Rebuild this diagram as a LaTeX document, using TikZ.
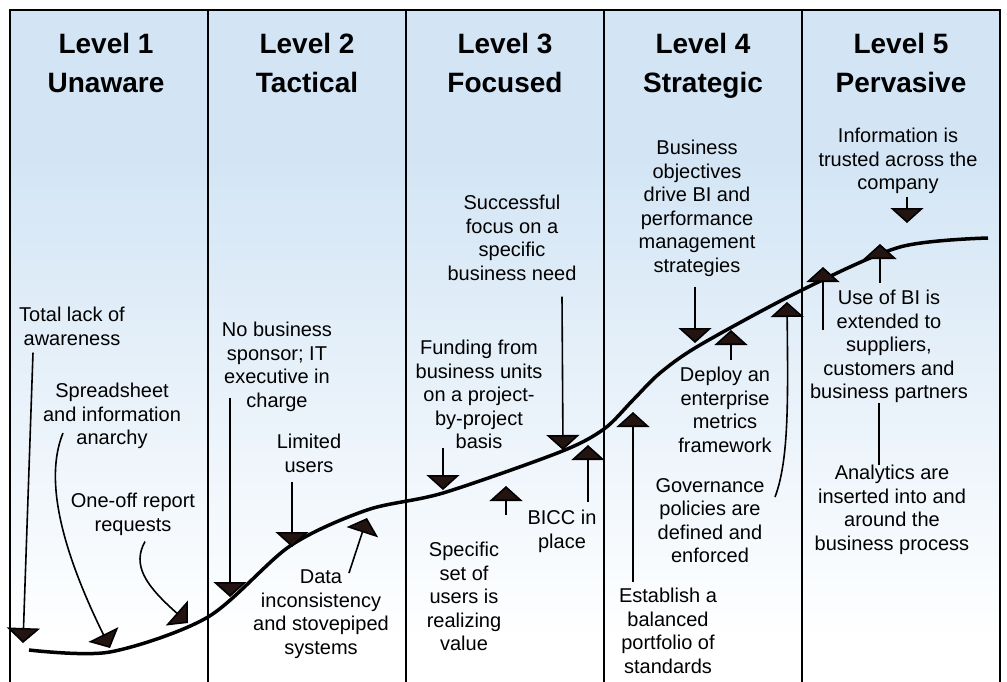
\documentclass[tikz,border=0pt]{standalone}
\usepackage{fontspec}
\setmainfont{Liberation Sans}
\usetikzlibrary{arrows.meta}
\definecolor{bandblue}{RGB}{211,229,245}
\definecolor{tipbrown}{RGB}{35,20,18}

\begin{document}
\begin{tikzpicture}[x=1pt,y=-1pt,
	level/.style={font=\fontsize{28}{39}\selectfont\bfseries,align=center,anchor=north,inner sep=0pt},
	note/.style={font=\fontsize{20}{23.5}\selectfont,align=center,anchor=north,inner sep=0pt},
	pointer/.style={line width=1.6pt,-{Triangle[width=33pt,length=15pt,fill=tipbrown]}},
	trend/.style={line width=3.5pt},
	frame/.style={line width=2pt}]

		\useasboundingbox (0,0) rectangle (1007,682);

		\fill[bandblue] (10,10) rectangle (1000,160);
		\shade[top color=bandblue,bottom color=white] (10,160) rectangle (1000,640);

		\draw[frame] (10,682) -- (10,10) -- (1000,10) -- (1000,682);
		\draw[frame] (208,10) -- (208,682);
		\draw[frame] (406,10) -- (406,682);
		\draw[frame] (604,10) -- (604,682);
		\draw[frame] (802,10) -- (802,682);

		\node[level] (lvl1) at (106,33) {Level 1\\Unaware};
		\node[level] (lvl2) at (307,33) {Level 2\\Tactical};
		\node[level] (lvl3) at (505,33) {Level 3\\Focused};
		\node[level] (lvl4) at (703,33) {Level 4\\Strategic};
		\node[level] (lvl5) at (901,33) {Level 5\\Pervasive};

		\draw[trend] plot[smooth] coordinates {(29,650) (110,652) (208,617) (290,546)
			(367,510) (443,493) (560,452) (604,429) (633,400) (660,373) (700,345)
			(800,291) (900,247) (988,238)};

		\node[note] (lack) at (72,307) {Total lack of\\awareness};
		\node[note] (sheet) at (112,383) {Spreadsheet\\and information\\anarchy};
		\node[note] (oneoff) at (133,493) {One-off report\\requests};
		\node[note] (sponsor) at (277,322) {No business\\sponsor; IT\\executive in\\charge};
		\node[note] (limited) at (309,434) {Limited\\users};
		\node[note] (incons) at (321,570) {Data\\inconsistency\\and stovepiped\\systems};
		\node[note] (success) at (512,195) {Successful\\focus on a\\specific\\business need};
		\node[note] (funding) at (479,340) {Funding from\\business units\\on a project-\\by-project\\basis};
		\node[note] (specific) at (464,542) {Specific\\set of\\users is\\realizing\\value};
		\node[note] (bicc) at (562,510) {BICC in\\place};
		\node[note] (objectives) at (697,140) {Business\\objectives\\drive BI and\\performance\\management\\strategies};
		\node[note] (deploy) at (725,367) {Deploy an\\enterprise\\metrics\\framework};
		\node[note] (governance) at (710,478) {Governance\\policies are\\defined and\\enforced};
		\node[note] (establish) at (668,588) {Establish a\\balanced\\portfolio of\\standards};
		\node[note] (trusted) at (898,128) {Information is\\trusted across the\\company};
		\node[note] (extended) at (889,290) {Use of BI is\\extended to\\suppliers,\\customers and\\business partners};
		\node[note] (analytics) at (892,465) {Analytics are\\inserted into and\\around the\\business process};

		\coordinate (tip1) at (23,643);
		\coordinate (tip2) at (110,648);
		\coordinate (tip3) at (188,623);
		\coordinate (tip4) at (230,597);
		\coordinate (tip5) at (292,547);
		\coordinate (tip6) at (367,518);
		\coordinate (tip7) at (443,490);
		\coordinate (tip8) at (563,450);
		\coordinate (tip9) at (506,486);
		\coordinate (tip10) at (588,445);
		\coordinate (tip11) at (695,343);
		\coordinate (tip12) at (731,330);
		\coordinate (tip13) at (633,412);
		\coordinate (tip14) at (787,302);
		\coordinate (tip15) at (907,223);
		\coordinate (tip16) at (823,267);
		\coordinate (tip17) at (880,244);

		\draw[pointer] (lack.south) ++(-39,7) -- (tip1);
		\draw[pointer] (sheet.south) ++(-49,-16) .. controls (48,470) and (52,530) .. (tip2);
		\draw[pointer] (oneoff.south) ++(12,6) .. controls (132,565) and (145,585) .. (tip3);
		\draw[pointer] (sponsor.south) ++(-47,-14) -- (tip4);
		\draw[pointer] (limited.south) ++(-17,9) -- (tip5);
		\draw[pointer] (incons.north) ++(28,3) -- (tip6);

		\draw[pointer] (funding.south) ++(-36,-1) -- (tip7);
		\draw[pointer] (success.south) ++(50,16) -- (tip8);
		\draw[pointer] (specific.north) ++(42,-27) -- (tip9);
		\draw[pointer] (bicc.north) ++(26,-8) -- (tip10);

		\draw[pointer] (objectives.south) ++(-2,10) -- (tip11);
		\draw[pointer] (deploy.north) ++(6,-7) -- (tip12);
		\draw[pointer] (establish.north) ++(-35,-6) -- (tip13);
		\draw[pointer] (governance.north) ++(65,19) .. controls (789,460) and (788,400) .. (tip14);

		\draw[pointer] (trusted.south) ++(9,3) -- (tip15);
		\draw[pointer] (extended.north) ++(-66,40) -- (tip16);
		\draw[pointer] (extended.north) ++(-9,-7) -- (tip17);
		\draw[line width=1.6pt] ([xshift=-10pt]extended.south) -- ([xshift=-10pt]extended.south |- analytics.north);

	\end{tikzpicture}
\end{document}
